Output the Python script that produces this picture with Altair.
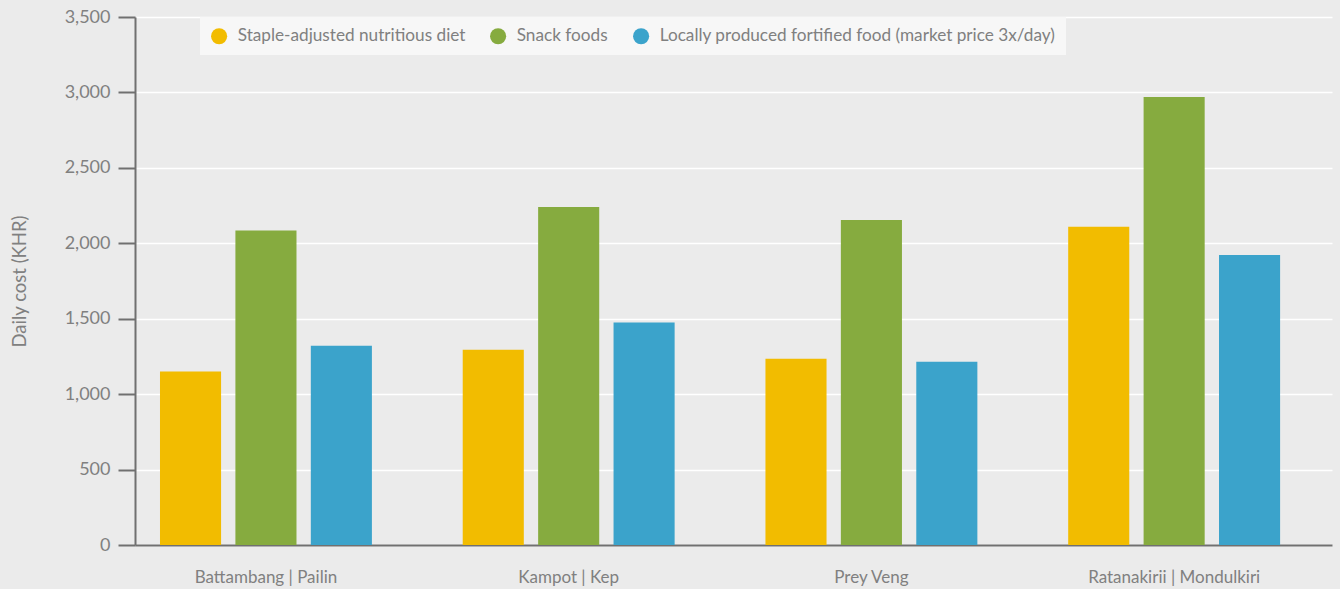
import altair as alt
import pandas as pd

regions = ["Battambang | Pailin", "Kampot | Kep", "Prey Veng", "Ratanakirii | Mondulkiri"]
series = ["Staple-adjusted nutritious diet", "Snack foods",
          "Locally produced fortified food (market price 3x/day)"]
staple = [1150, 1295, 1235, 2110]
snack = [2085, 2240, 2155, 2970]
fortified = [1320, 1475, 1215, 1922]
colors = ["#f2bc00", "#86ab3f", "#3ba3cb"]

rows = []
for i, r in enumerate(regions):
    for s, vals in zip(series, [staple, snack, fortified]):
        rows.append({"region": r, "series": s, "value": vals[i]})
df = pd.DataFrame(rows)

FONT = "Lato, sans-serif"

chart = alt.Chart(df).mark_bar().encode(
    x=alt.X("region:N", sort=regions, title=None,
            scale=alt.Scale(paddingInner=0.30, paddingOuter=0.127, align=0.325),
            axis=alt.Axis(labelAngle=0, ticks=False, labelPadding=24, labelFontSize=17,
                          labelColor="#808080", domainColor="#707070", domainWidth=2,
                          labelFont=FONT)),
    xOffset=alt.XOffset("series:N", sort=series,
                        scale=alt.Scale(paddingInner=0.19, paddingOuter=0)),
    y=alt.Y("value:Q", title="Daily cost (KHR)",
            scale=alt.Scale(domain=[0, 3500], nice=False),
            axis=alt.Axis(values=[0, 500, 1000, 1500, 2000, 2500, 3000, 3500], format=",.0f",
                          tickSize=17, tickWidth=2, tickColor="#707070", domainColor="#707070",
                          domainWidth=2, labelPadding=8, labelFontSize=18, labelColor="#808080",
                          gridColor="#ffffff", gridWidth=1.5, titleFontSize=18.5,
                          titleColor="#808080", titleFontWeight="normal", titlePadding=35,
                          labelFont=FONT, titleFont=FONT)),
    color=alt.Color("series:N", sort=series,
                    scale=alt.Scale(domain=series, range=colors),
                    legend=alt.Legend(title=None, orient="none", legendX=65, legendY=0,
                                      direction="horizontal", symbolType="circle",
                                      symbolSize=260, symbolStrokeWidth=0, labelFontSize=17.2,
                                      labelColor="#808080", labelFont=FONT, columnPadding=24,
                                      labelLimit=1000,
                                      fillColor="#f7f7f7", padding=10.5, labelOffset=10)),
).properties(
    width=1197, height=528,
    background="#ebebeb",
    padding={"left": 135, "top": 17, "right": 8, "bottom": 44},
    autosize=alt.AutoSizeParams(type="none"),
).configure_view(stroke=None, fill="#ebebeb").configure_axisX(grid=False)

chart.save("out.html", embed_options={"renderer": "svg", "actions": False})
